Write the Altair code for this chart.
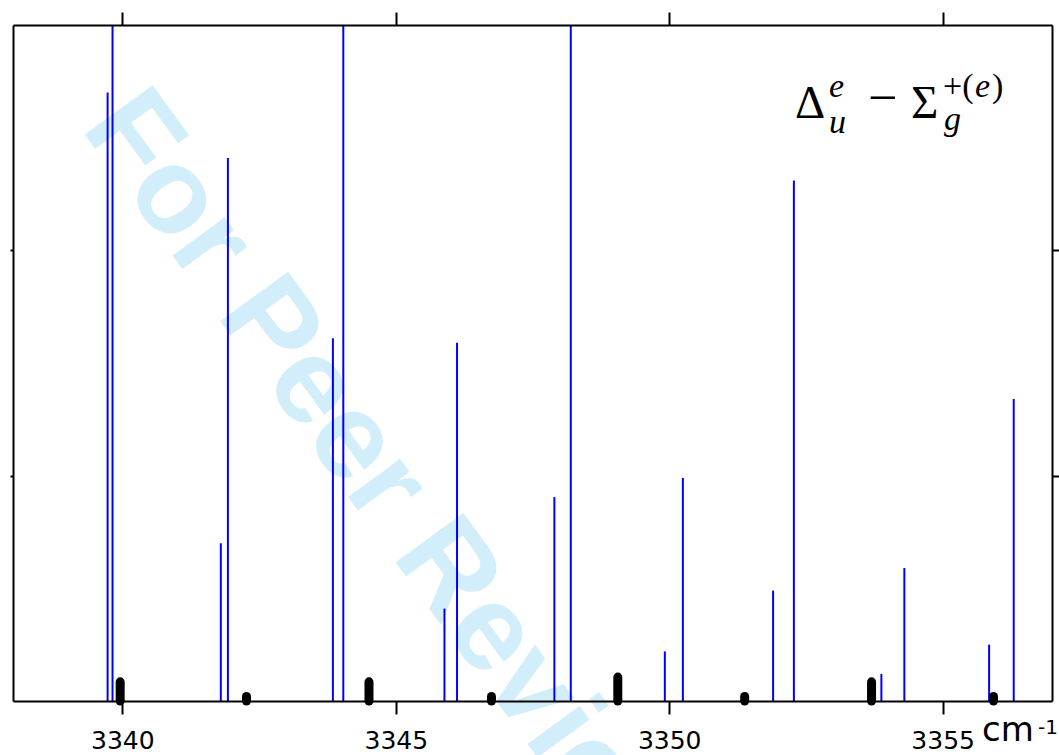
import altair as alt
import pandas as pd

# Calculated transition lines (blue sticks): position in cm-1 and relative intensity
calc_pos = [3339.73, 3339.82, 3341.80, 3341.93, 3343.85, 3344.04, 3345.89, 3346.12, 3347.90,
            3348.20, 3349.92, 3350.25, 3351.90, 3352.28, 3353.88, 3354.30, 3355.85, 3356.30]
calc_int = [2.70, 3.60, 0.70, 2.41, 1.61, 3.60, 0.41, 1.59, 0.905,
            3.60, 0.22, 0.99, 0.49, 2.31, 0.12, 0.59, 0.25, 1.34]

# Observed lines (black markers along the baseline)
obs_pos = [3339.96, 3342.27, 3344.51, 3346.75, 3349.06, 3351.38, 3353.70, 3355.93]
obs_int = [0.085, 0.02, 0.085, 0.02, 0.106, 0.02, 0.085, 0.02]

x_ticks = [3340, 3345, 3350, 3355]
y_ticks = [1, 2]

calc = pd.DataFrame({"pos": calc_pos, "val": calc_int, "base": 0.0})
obs = pd.DataFrame({"pos": obs_pos, "val": obs_int, "base": 0.0})
one = pd.DataFrame({"k": [0]})

xs = alt.Scale(domain=[3338, 3357], nice=False, zero=False)
ys = alt.Scale(domain=[0, 3], nice=False, zero=False)

axis_common = dict(domainColor="black", domainWidth=2, tickColor="black", tickWidth=2,
                   grid=False, title="", zindex=1)

ax_bottom = alt.Axis(orient="bottom", values=x_ticks, format="d", tickSize=13,
                     labelFontSize=25, labelFont="DejaVu Sans", labelColor="black",
                     labelPadding=14, labelOverlap=False, labelFlush=False, **axis_common)
ax_top = alt.Axis(orient="top", values=x_ticks, tickSize=13, labels=False, **axis_common)
ax_left = alt.Axis(orient="left", values=y_ticks, tickSize=3, labels=False, **axis_common)
ax_right = alt.Axis(orient="right", values=y_ticks, tickSize=7, labels=False, **axis_common)

watermark = alt.Chart(one).mark_text(
    text="For Peer Review", font="Liberation Sans", fontWeight="bold", fontSize=122,
    color="#d3eefb", angle=54, align="left", baseline="alphabetic"
).encode(x=alt.value(67), y=alt.value(103))

calc_lines = alt.Chart(calc).mark_rule(color="#0000ff", strokeWidth=2, clip=True).encode(
    x=alt.X("pos:Q", scale=xs, axis=ax_bottom),
    y=alt.Y("val:Q", scale=ys, axis=ax_left),
    y2="base:Q",
)

obs_marks = alt.Chart(obs).mark_rule(color="black", strokeWidth=9, strokeCap="round").encode(
    x=alt.X("pos:Q", scale=xs, axis=ax_top),
    y=alt.Y("val:Q", scale=ys, axis=ax_right),
    y2="base:Q",
)

serif = "Liberation Serif"
def label(text, x, y, size, style="normal", font=serif):
    return alt.Chart(one).mark_text(
        text=text, font=font, fontSize=size, fontStyle=style, color="black",
        align="left", baseline="alphabetic"
    ).encode(x=alt.value(x), y=alt.value(y))

formula = [
    label("Δ", 782, 93, 47),
    label("e", 816, 72, 34, "italic"),
    label("u", 816, 108, 34, "italic"),
    label("−", 855, 90, 52),
    label("Σ", 898, 93, 47),
    label("+(", 930, 72, 34),
    label("e", 962, 72, 34, "italic"),
    label(")", 979, 72, 34),
    label("g", 931, 105, 34, "italic"),
]

unit = [
    label("cm", 969, 716, 34, font="DejaVu Sans"),
    label("-1", 1025, 709, 20, font="DejaVu Sans"),
]

chart = alt.layer(watermark, calc_lines, obs_marks, *formula, *unit).resolve_scale(
    x="shared", y="shared"
).resolve_axis(
    x="independent", y="independent"
).properties(
    width=1039, height=676,
    autosize=alt.AutoSizeParams(type="none"),
    padding={"left": 13, "top": 25, "right": 7, "bottom": 54},
).configure_view(stroke="transparent")

chart.save("out.html", embed_options={"renderer": "svg", "actions": False})
